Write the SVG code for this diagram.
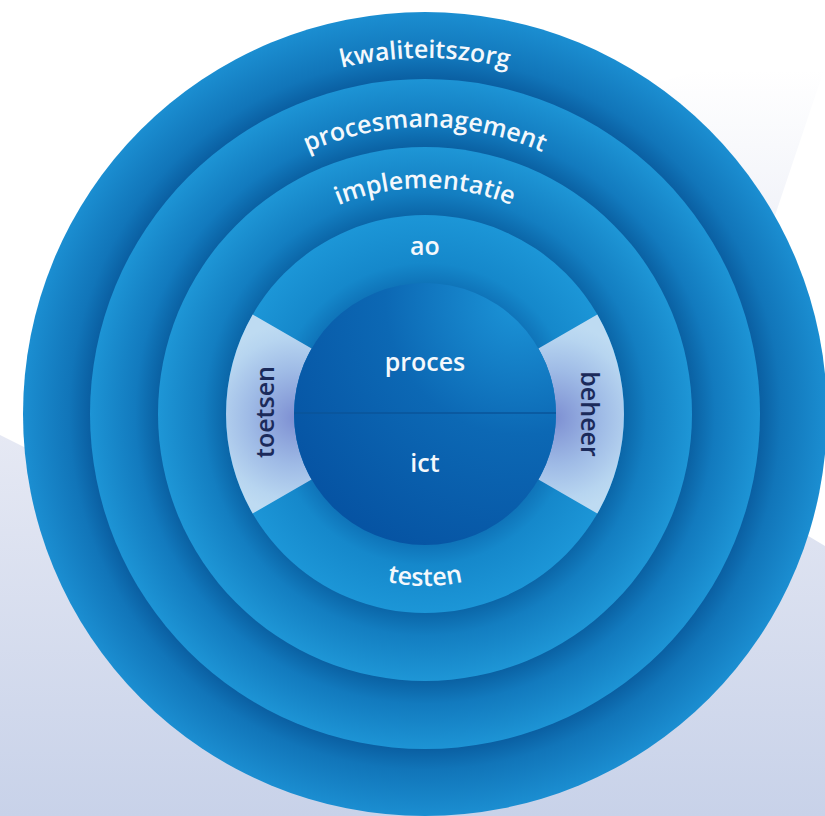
<svg xmlns="http://www.w3.org/2000/svg" width="825" height="816" viewBox="0 0 825 816">
  <style>
    .lbl { font-family: "Open Sans", "Liberation Sans", sans-serif; font-size: 25px; font-weight: 600; fill: #f4f8fc; }
    .side { font-family: "Open Sans", "Liberation Sans", sans-serif; font-size: 25px; font-weight: 600; fill: #1b2a5a; }
  </style>
  <defs>
    <linearGradient id="bgLav" x1="0" y1="430" x2="0" y2="816" gradientUnits="userSpaceOnUse">
      <stop offset="0" stop-color="#e6e9f4"/>
      <stop offset="1" stop-color="#c8d2e9"/>
    </linearGradient>
    <linearGradient id="bgFaint" x1="0" y1="70" x2="0" y2="220" gradientUnits="userSpaceOnUse">
      <stop offset="0" stop-color="#ffffff"/>
      <stop offset="1" stop-color="#f1f3f9"/>
    </linearGradient>
    <radialGradient id="g1" cx="425" cy="414" r="402" gradientUnits="userSpaceOnUse">
      <stop offset="0.833" stop-color="#0a5fa2"/>
      <stop offset="0.885" stop-color="#1175b9"/>
      <stop offset="1" stop-color="#1b8ed1"/>
    </radialGradient>
    <radialGradient id="g2" cx="425" cy="414" r="335" gradientUnits="userSpaceOnUse">
      <stop offset="0.797" stop-color="#0a61a3"/>
      <stop offset="0.865" stop-color="#127abe"/>
      <stop offset="1" stop-color="#1d94d5"/>
    </radialGradient>
    <radialGradient id="g3" cx="425" cy="414" r="267" gradientUnits="userSpaceOnUse">
      <stop offset="0.745" stop-color="#0b66a8"/>
      <stop offset="0.83" stop-color="#137ec1"/>
      <stop offset="1" stop-color="#1e96d6"/>
    </radialGradient>
    <radialGradient id="g4" cx="425" cy="414" r="199" gradientUnits="userSpaceOnUse">
      <stop offset="0.658" stop-color="#0f74b9"/>
      <stop offset="0.76" stop-color="#1588cb"/>
      <stop offset="1" stop-color="#1c96d7"/>
    </radialGradient>
    <radialGradient id="gCore" cx="520" cy="300" r="300" gradientUnits="userSpaceOnUse">
      <stop offset="0" stop-color="#1c95d8"/>
      <stop offset="0.45" stop-color="#0c68b4"/>
      <stop offset="1" stop-color="#0550a0"/>
    </radialGradient>
    <radialGradient id="gToets" cx="296" cy="418" r="95" gradientUnits="userSpaceOnUse">
      <stop offset="0" stop-color="#7d8fd2"/>
      <stop offset="0.5" stop-color="#9fbbe6"/>
      <stop offset="0.85" stop-color="#b7d5f0"/>
      <stop offset="1" stop-color="#bedbf2"/>
    </radialGradient>
    <radialGradient id="gBeheer" cx="554" cy="418" r="95" gradientUnits="userSpaceOnUse">
      <stop offset="0" stop-color="#7d8fd2"/>
      <stop offset="0.5" stop-color="#9fbbe6"/>
      <stop offset="0.85" stop-color="#b7d5f0"/>
      <stop offset="1" stop-color="#bedbf2"/>
    </radialGradient>
    <path id="arc1" d="M69,414 A356,356 0 0 1 781,414"/>
    <path id="arc2" d="M138,414 A287,287 0 0 1 712,414"/>
    <path id="arc3" d="M199,414 A226,226 0 0 1 651,414"/>
    <path id="arc4" d="M253,414 A172,172 0 0 0 597,414"/>
  </defs>

  <g id="background">
    <rect x="0" y="0" width="825" height="816" fill="#ffffff"/>
    <polygon points="600,100 700,70 825,70 825,67 760,260" fill="url(#bgFaint)"/>
    <polygon points="0,435 40,455 425,500 790,525 825,546 825,816 0,816" fill="url(#bgLav)"/>
  </g>

  <g id="ring-kwaliteitszorg">
    <circle cx="425" cy="414" r="402" fill="url(#g1)"/>
    <text class="lbl"><textPath href="#arc1" startOffset="50%" text-anchor="middle">kwaliteitszorg</textPath></text>
  </g>

  <g id="ring-procesmanagement">
    <circle cx="425" cy="414" r="335" fill="url(#g2)"/>
    <text class="lbl"><textPath href="#arc2" startOffset="50%" text-anchor="middle">procesmanagement</textPath></text>
  </g>

  <g id="ring-implementatie">
    <circle cx="425" cy="414" r="267" fill="url(#g3)"/>
    <text class="lbl"><textPath href="#arc3" startOffset="50%" text-anchor="middle">implementatie</textPath></text>
  </g>

  <g id="ring-ao-testen">
    <circle cx="425" cy="414" r="199" fill="url(#g4)"/>
    <text class="lbl" x="425" y="255" text-anchor="middle">ao</text>
    <text class="lbl"><textPath href="#arc4" startOffset="50%" text-anchor="middle">testen</textPath></text>
  </g>

  <g id="sector-toetsen">
    <path d="M252.7,314.5 A199,199 0 0 0 252.7,513.5 L311.6,479.5 A131,131 0 0 1 311.6,348.5 Z" fill="url(#gToets)"/>
    <text class="side" transform="translate(274,412) rotate(-90)" text-anchor="middle">toetsen</text>
  </g>

  <g id="sector-beheer">
    <path d="M597.3,314.5 A199,199 0 0 1 597.3,513.5 L538.4,479.5 A131,131 0 0 0 538.4,348.5 Z" fill="url(#gBeheer)"/>
    <text class="side" transform="translate(581,414) rotate(90)" text-anchor="middle">beheer</text>
  </g>

  <g id="core-proces-ict">
    <circle cx="425" cy="414" r="131" fill="url(#gCore)"/>
    <line x1="294" y1="413" x2="556" y2="413" stroke="#0a559a" stroke-width="1.5"/>
    <text class="lbl" x="425" y="371" text-anchor="middle">proces</text>
    <text class="lbl" x="425" y="472" text-anchor="middle">ict</text>
  </g>

  <g id="connectors"></g>
</svg>
